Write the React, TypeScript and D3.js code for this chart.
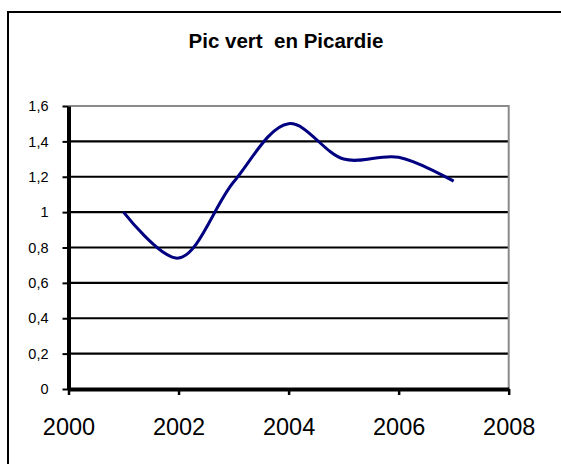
import React, { useRef, useEffect } from "react";
import * as d3 from "d3";

const title = "Pic vert  en Picardie";
const years = [2001, 2002, 2003, 2004, 2005, 2006, 2007];
const values = [1.0, 0.74, 1.17, 1.5, 1.3, 1.31, 1.175];
const xTicks = [2000, 2002, 2004, 2006, 2008];
const yTicks = [0, 0.2, 0.4, 0.6, 0.8, 1, 1.2, 1.4, 1.6];
const yTickLabels = ["0", "0,2", "0,4", "0,6", "0,8", "1", "1,2", "1,4", "1,6"];

const FONT = "'Liberation Sans', Arial, sans-serif";

const App = () => {
    const ref = useRef<SVGSVGElement | null>(null);

    useEffect(() => {
        if (!ref.current) return;
        const svg = d3.select(ref.current);
        svg.selectAll("*").remove();

        const left = 68.5;
        const right = 508.7;
        const top = 106;
        const bottom = 389;

        // outer chart frame (cropped on right and bottom)
        svg.append("rect")
            .attr("x", 8)
            .attr("y", 12)
            .attr("width", 600)
            .attr("height", 500)
            .attr("fill", "white")
            .attr("stroke", "black")
            .attr("stroke-width", 2);

        svg.append("text")
            .attr("x", 286)
            .attr("y", 48.3)
            .attr("text-anchor", "middle")
            .style("font-family", FONT)
            .style("font-size", "20.5px")
            .style("font-weight", "bold")
            .style("white-space", "pre")
            .text(title);

        const x = d3.scaleLinear().domain([2000, 2008]).range([left, right]);
        const y = d3.scaleLinear().domain([0, 1.6]).range([bottom, top]);

        // horizontal gridlines
        svg.append("g")
            .selectAll("line")
            .data(yTicks.filter((d) => d > 0 && d < 1.6))
            .join("line")
            .attr("x1", left)
            .attr("x2", right)
            .attr("y1", (d) => y(d))
            .attr("y2", (d) => y(d))
            .attr("stroke", "black")
            .attr("stroke-width", 2.2);

        // plot area border (top + right), grey
        svg.append("path")
            .attr("d", `M${left},${y(1.6)}H${right}V${bottom}`)
            .attr("fill", "none")
            .attr("stroke", "#8a8a8a")
            .attr("stroke-width", 2);

        const yAxis = svg
            .append("g")
            .attr("transform", `translate(${left},0)`)
            .call(
                d3
                    .axisLeft(y)
                    .tickValues(yTicks)
                    .tickSize(6)
                    .tickSizeOuter(0)
                    .tickPadding(14)
                    .tickFormat((d, i) => yTickLabels[i])
            );
        yAxis.select(".domain").attr("stroke-width", 4);
        yAxis.selectAll(".tick line").attr("stroke-width", 2);
        yAxis
            .selectAll(".tick text")
            .style("font-family", FONT)
            .style("font-size", "14.5px")
            .attr("fill", "black");

        const xAxis = svg
            .append("g")
            .attr("transform", `translate(0,${bottom})`)
            .call(
                d3
                    .axisBottom(x)
                    .tickValues(xTicks)
                    .tickSize(6)
                    .tickSizeOuter(0)
                    .tickPadding(23)
                    .tickFormat(d3.format("d"))
            );
        xAxis.select(".domain").attr("stroke-width", 4);
        xAxis.selectAll(".tick line").attr("stroke-width", 2.5);
        xAxis
            .selectAll(".tick text")
            .style("font-family", FONT)
            .style("font-size", "23.5px")
            .attr("fill", "black");

        const line = d3
            .line<number>()
            .x((d, i) => x(years[i]))
            .y((d) => y(d))
            .curve(d3.curveCatmullRom.alpha(0.5));

        svg.append("path")
            .datum(values)
            .attr("fill", "none")
            .attr("stroke", "#000080")
            .attr("stroke-width", 3)
            .attr("d", line);
    }, []);

    return (
        <svg
            ref={ref}
            width={561}
            height={464}
            style={{ position: "absolute", left: 0, top: 0, background: "white" }}
        />
    );
};

export default App;
